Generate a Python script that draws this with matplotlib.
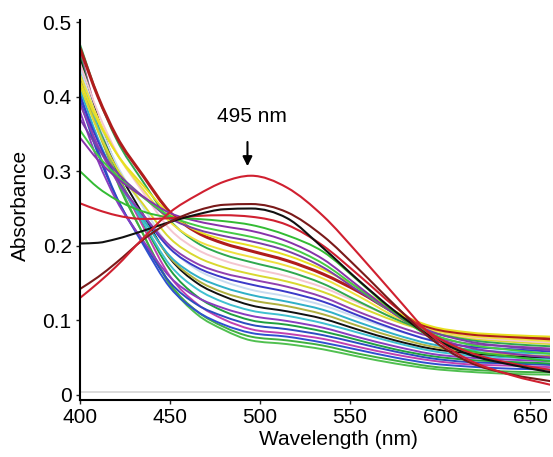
import numpy as np
import matplotlib
matplotlib.use("Agg")
import matplotlib.pyplot as plt
from matplotlib.path import Path
from matplotlib.patches import PathPatch

plt.rcParams['font.family'] = ['Liberation Sans', 'DejaVu Sans']

# wavelength grid (nm) the spectra were read at
wavelength = [400, 410, 420, 435, 450, 465, 480, 495, 515, 535, 555, 575, 595, 615, 640, 662]

# spectra that fall at 400 nm (ordered by absorbance at 495 nm, high -> low)
s00 = [0.300, 0.278, 0.262, 0.246, 0.238, 0.236, 0.233, 0.228, 0.214, 0.192, 0.152, 0.110, 0.077, 0.060, 0.051, 0.045]
s01 = [0.345, 0.315, 0.292, 0.266, 0.244, 0.233, 0.226, 0.220, 0.206, 0.182, 0.145, 0.108, 0.079, 0.064, 0.055, 0.050]
s02 = [0.355, 0.321, 0.295, 0.265, 0.240, 0.227, 0.219, 0.212, 0.199, 0.176, 0.142, 0.108, 0.082, 0.068, 0.060, 0.055]
s03 = [0.370, 0.331, 0.300, 0.266, 0.237, 0.222, 0.213, 0.206, 0.193, 0.171, 0.139, 0.109, 0.085, 0.072, 0.064, 0.060]
s04 = [0.420, 0.367, 0.325, 0.281, 0.242, 0.220, 0.208, 0.200, 0.187, 0.168, 0.143, 0.112, 0.092, 0.084, 0.080, 0.078]
s05 = [0.465, 0.400, 0.348, 0.294, 0.245, 0.218, 0.203, 0.193, 0.180, 0.162, 0.138, 0.110, 0.090, 0.082, 0.078, 0.075]
s06 = [0.430, 0.371, 0.325, 0.276, 0.232, 0.207, 0.194, 0.185, 0.173, 0.156, 0.132, 0.105, 0.087, 0.079, 0.075, 0.072]
s07 = [0.470, 0.400, 0.344, 0.286, 0.234, 0.204, 0.188, 0.178, 0.166, 0.149, 0.125, 0.102, 0.084, 0.074, 0.068, 0.065]
s08 = [0.445, 0.379, 0.327, 0.272, 0.222, 0.195, 0.180, 0.170, 0.159, 0.144, 0.123, 0.103, 0.087, 0.078, 0.073, 0.070]
s09 = [0.415, 0.354, 0.306, 0.256, 0.210, 0.185, 0.171, 0.162, 0.152, 0.138, 0.118, 0.099, 0.084, 0.076, 0.071, 0.068]
s10 = [0.390, 0.334, 0.289, 0.242, 0.200, 0.176, 0.163, 0.155, 0.145, 0.131, 0.111, 0.093, 0.078, 0.069, 0.065, 0.062]
s11 = [0.400, 0.340, 0.292, 0.241, 0.196, 0.171, 0.157, 0.148, 0.138, 0.125, 0.106, 0.088, 0.073, 0.065, 0.061, 0.058]
s12 = [0.440, 0.368, 0.311, 0.252, 0.198, 0.168, 0.152, 0.141, 0.132, 0.120, 0.103, 0.087, 0.074, 0.066, 0.062, 0.060]
s13 = [0.410, 0.344, 0.291, 0.236, 0.186, 0.159, 0.144, 0.134, 0.125, 0.114, 0.097, 0.081, 0.068, 0.061, 0.057, 0.055]
s14 = [0.425, 0.354, 0.297, 0.237, 0.184, 0.154, 0.137, 0.127, 0.119, 0.108, 0.092, 0.077, 0.065, 0.058, 0.054, 0.052]
s15 = [0.450, 0.371, 0.308, 0.242, 0.183, 0.150, 0.132, 0.120, 0.112, 0.102, 0.087, 0.073, 0.062, 0.056, 0.052, 0.050]
s16 = [0.435, 0.358, 0.297, 0.232, 0.174, 0.142, 0.124, 0.113, 0.106, 0.096, 0.083, 0.070, 0.059, 0.053, 0.050, 0.048]
s17 = [0.380, 0.314, 0.262, 0.207, 0.158, 0.131, 0.116, 0.106, 0.099, 0.090, 0.077, 0.065, 0.055, 0.050, 0.047, 0.045]
s18 = [0.455, 0.370, 0.302, 0.231, 0.168, 0.132, 0.112, 0.100, 0.094, 0.085, 0.073, 0.061, 0.052, 0.047, 0.044, 0.042]
s19 = [0.395, 0.323, 0.266, 0.205, 0.151, 0.121, 0.105, 0.094, 0.088, 0.080, 0.069, 0.058, 0.049, 0.044, 0.042, 0.040]
s20 = [0.460, 0.371, 0.300, 0.226, 0.159, 0.122, 0.101, 0.088, 0.082, 0.075, 0.064, 0.054, 0.046, 0.041, 0.039, 0.037]
s21 = [0.405, 0.328, 0.267, 0.202, 0.144, 0.112, 0.094, 0.083, 0.078, 0.070, 0.060, 0.050, 0.042, 0.038, 0.035, 0.034]
s22 = [0.450, 0.361, 0.290, 0.216, 0.149, 0.112, 0.091, 0.078, 0.073, 0.066, 0.055, 0.046, 0.038, 0.034, 0.031, 0.030]
s23 = [0.460, 0.367, 0.294, 0.216, 0.147, 0.108, 0.087, 0.073, 0.068, 0.061, 0.051, 0.042, 0.035, 0.031, 0.028, 0.027]

# spectra with the band near 495 nm
p_red2 = [0.257, 0.248, 0.241, 0.236, 0.237, 0.240, 0.241, 0.239, 0.228, 0.200, 0.160, 0.118, 0.082, 0.058, 0.042, 0.033]
p_black = [0.203, 0.204, 0.209, 0.220, 0.232, 0.242, 0.249, 0.250, 0.237, 0.197, 0.153, 0.112, 0.078, 0.055, 0.040, 0.030]
p_darkred = [0.142, 0.158, 0.177, 0.208, 0.232, 0.247, 0.255, 0.256, 0.245, 0.213, 0.168, 0.120, 0.075, 0.045, 0.027, 0.018]
p_red = [0.130, 0.150, 0.172, 0.210, 0.245, 0.268, 0.286, 0.294, 0.278, 0.240, 0.188, 0.133, 0.080, 0.048, 0.026, 0.013]

decay = [s00, s01, s02, s03, s04, s05, s06, s07, s08, s09, s10, s11,
         s12, s13, s14, s15, s16, s17, s18, s19, s20, s21, s22, s23]
decay_colors = ['#33bb33', '#8833aa', '#44cc44', '#7a3fa8', '#e8e020', '#b01c1c',
                '#f0e040', '#2fa84f', '#f4c6d0', '#d8d830', '#9040b0', '#3a3ac8',
                '#c8dcf0', '#30b0c8', '#b0b040', '#111111', '#40c0d0', '#8a3cc0',
                '#20a040', '#2c4cc0', '#c040b0', '#3050d0', '#40b040', '#50c050']
peaks = [p_red2, p_black, p_darkred, p_red]
peak_colors = ['#d02030', '#111111', '#7a1a1a', '#d02030']


def smooth_curve(ax, xs, ys, **kw):
    # draw the read points as a smooth (monotone cubic) bezier path
    x = np.asarray(xs, float)
    y = np.asarray(ys, float)
    h = np.diff(x)
    d = np.diff(y) / h
    m = np.empty_like(y)
    m[0], m[-1] = d[0], d[-1]
    for k in range(1, len(y) - 1):
        if d[k - 1] * d[k] <= 0:
            m[k] = 0.0
        else:
            p = (d[k - 1] * h[k] + d[k] * h[k - 1]) / (h[k - 1] + h[k])
            lim = 2 * min(abs(d[k - 1]), abs(d[k]))
            m[k] = np.sign(p) * min(abs(p), lim)
    verts = [(x[0], y[0])]
    codes = [Path.MOVETO]
    for k in range(len(h)):
        verts += [(x[k] + h[k] / 3, y[k] + m[k] * h[k] / 3),
                  (x[k + 1] - h[k] / 3, y[k + 1] - m[k + 1] * h[k] / 3),
                  (x[k + 1], y[k + 1])]
        codes += [Path.CURVE4] * 3
    ax.add_patch(PathPatch(Path(verts, codes), fill=False, capstyle='round', **kw))


fig = plt.figure(figsize=(5.53, 4.57), dpi=100)
ax = fig.add_axes([80 / 553, 1 - 400 / 457, 470 / 553, 380 / 457])

ax.axhline(0.004, color='#d4d4d4', lw=1.2, zorder=1)

for ys, c in zip(decay[::-1], decay_colors[::-1]):
    lw = 2.2 if c == '#b01c1c' else 1.4
    smooth_curve(ax, wavelength, ys, edgecolor=c, lw=lw, zorder=2)
for ys, c in zip(peaks, peak_colors):
    smooth_curve(ax, wavelength, ys, edgecolor=c, lw=1.5, zorder=3)

ax.set_xlim(400, 661)
ax.set_ylim(-0.007, 0.503)
ax.set_xticks([400, 450, 500, 550, 600, 650])
ax.set_yticks([0, 0.1, 0.2, 0.3, 0.4, 0.5])
ax.set_yticklabels(['0', '0.1', '0.2', '0.3', '0.4', '0.5'])

for side in ['top', 'right']:
    ax.spines[side].set_visible(False)
for side in ['left', 'bottom']:
    ax.spines[side].set_linewidth(1.5)
    ax.spines[side].set_zorder(5)
ax.tick_params(axis='both', labelsize=15, length=3, width=1, pad=3, color='#222222')

ax.set_xlabel("Wavelength (nm)", fontsize=15)
ax.set_ylabel("Absorbance", fontsize=15)
ax.xaxis.set_label_coords(0.549, -0.079)
ax.yaxis.set_label_coords(-0.107, 0.513)

ax.annotate("", xy=(493, 0.303), xytext=(493, 0.343),
            arrowprops=dict(arrowstyle='-|>', color='black', lw=1.5,
                            mutation_scale=14))
ax.text(495.5, 0.374, "495 nm", fontsize=15, ha='center', va='center')

fig.savefig("out.png", dpi=100)
